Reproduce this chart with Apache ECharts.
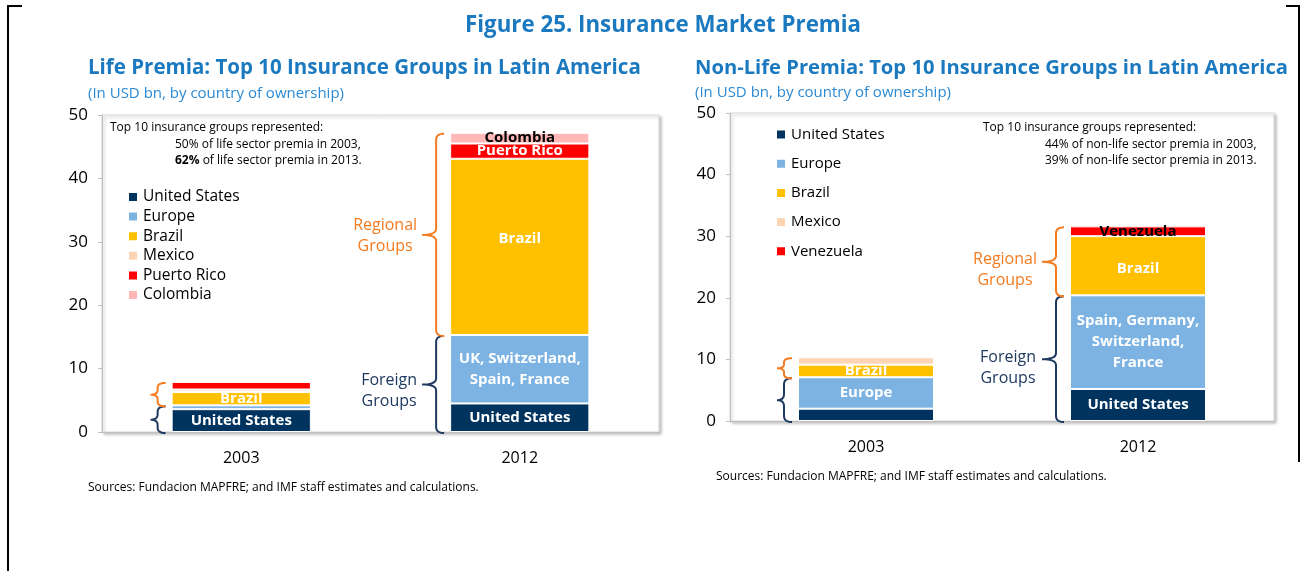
<!DOCTYPE html>
<html>
<head>
<meta charset="utf-8">
<script src="https://cdn.jsdelivr.net/npm/echarts@6/dist/echarts.min.js"></script>
<style>
  html, body { margin: 0; padding: 0; background: #fff; }
  #main { width: 1309px; height: 571px; }
</style>
</head>
<body>
<div id="main"></div>
<script>
var years = ['2003', '2012'];

// Life premia, USD bn
var lifeUS = [3.6, 4.5];
var lifeEurope = [0.6, 10.8];
var lifeBrazil = [2.1, 27.8];
var lifeMexico = [0.4, 0];
var lifePuertoRico = [1.2, 2.4];
var lifeColombia = [0, 1.7];

// Non-life premia, USD bn
var nonLifeUS = [2.0, 5.2];
var nonLifeEurope = [5.1, 15.2];
var nonLifeBrazil = [2.05, 9.6];
var nonLifeMexico = [1.2, 0];
var nonLifeVenezuela = [0, 1.6];

// text shown inside the segments
var lifeLabels = {
    us: ['United States', 'United States'],
    europe: [null, 'UK, Switzerland,\nSpain, France'],
    brazil: ['Brazil', 'Brazil'],
    pr: [null, 'Puerto Rico'],
    col: [null, 'Colombia']
};
var nonLifeLabels = {
    us: [null, 'United States'],
    europe: ['Europe', 'Spain, Germany,\nSwitzerland,\nFrance'],
    brazil: ['Brazil', 'Brazil'],
    ven: [null, 'Venezuela']
};

var COLORS = {
    us: '#00335e',
    europe: '#7db3e3',
    brazil: '#ffc000',
    mexico: '#fcd5b4',
    red: '#ff0000',
    colombia: '#ffb7b7'
};
var FONT = '"Open Sans", "Noto Sans", sans-serif';
var ORANGE = '#f47b20';
var NAVY = '#1f3a60';

function seg(values, labels, textColor, offsets) {
    return values.map(function (v, i) {
        if (!v) return '-';
        var item = { value: v };
        if (labels && labels[i]) {
            item.label = {
                show: true, position: 'inside', formatter: labels[i],
                color: textColor || '#fff', fontWeight: 'bold', fontSize: 15,
                fontFamily: FONT, lineHeight: 21,
                offset: offsets ? offsets[i] : [0, 0]
            };
        }
        return item;
    });
}

function bar(name, idx, values, labels, color, textColor, offsets) {
    return {
        name: name, type: 'bar', stack: 's' + idx,
        xAxisIndex: idx, yAxisIndex: idx, barWidth: '50%',
        itemStyle: { color: color, borderColor: '#fff', borderWidth: 1 },
        label: { show: false },
        data: seg(values, labels, textColor, offsets)
    };
}

function yAxis(idx) {
    return {
        gridIndex: idx, type: 'value', min: 0, max: 50, interval: 10,
        axisLine: { show: true, lineStyle: { color: '#bfbfbf' } },
        axisTick: { show: true, length: 4, lineStyle: { color: '#bfbfbf' } },
        splitLine: { show: false },
        axisLabel: { color: '#000', fontSize: 17, margin: 14, fontFamily: FONT }
    };
}
function xAxis(idx) {
    return {
        gridIndex: idx, type: 'category', data: years,
        axisLine: { lineStyle: { color: '#bfbfbf' } },
        axisTick: { inside: true, length: 5, lineStyle: { color: '#bfbfbf' } },
        axisLabel: { color: '#000', fontSize: 16, margin: 18, fontFamily: FONT }
    };
}
function gridBox(left, top, width, height) {
    return {
        left: left, top: top, width: width, height: height, show: true,
        backgroundColor: '#fff', borderColor: '#d9d9d9', borderWidth: 1,
        shadowColor: 'rgba(0,0,0,0.25)', shadowBlur: 3, shadowOffsetX: 2, shadowOffsetY: 2
    };
}

var chart = echarts.init(document.getElementById('main'));

var option = {
    animation: false,
    textStyle: { fontFamily: FONT },
    title: [
        { text: 'Figure 25. Insurance Market Premia', left: 460, top: 10,
          textStyle: { color: '#1b79c0', fontSize: 22.3, fontWeight: 'bold', fontFamily: FONT } },
        { text: 'Life Premia: Top 10 Insurance Groups in Latin America', left: 88, top: 58,
          subtext: '(In USD bn, by country of ownership)', itemGap: 7, padding: 0,
          textStyle: { color: '#1b79c0', fontSize: 20.5, fontWeight: 'bold', fontFamily: FONT },
          subtextStyle: { color: '#2b8ad3', fontSize: 15, fontFamily: FONT } },
        { text: 'Non-Life Premia: Top 10 Insurance Groups in Latin America', left: 695, top: 58,
          subtext: '(In USD bn, by country of ownership)', itemGap: 7, padding: 0,
          textStyle: { color: '#1b79c0', fontSize: 20.2, fontWeight: 'bold', fontFamily: FONT },
          subtextStyle: { color: '#2b8ad3', fontSize: 15, fontFamily: FONT } }
    ],
    legend: [
        { data: ['United States', 'Europe', 'Brazil', 'Mexico', 'Puerto Rico', 'Colombia'],
          orient: 'vertical', left: 127, top: 189, padding: 0, itemGap: 3.6,
          itemWidth: 10, itemHeight: 10, icon: 'rect', selectedMode: false,
          textStyle: { color: '#000', fontSize: 15.5, fontFamily: FONT } },
        { data: ['United States', 'Europe', 'Brazil', 'Mexico', 'Venezuela'],
          orient: 'vertical', left: 775, top: 127, padding: 0, itemGap: 14.2,
          itemWidth: 10, itemHeight: 10, icon: 'rect', selectedMode: false,
          textStyle: { color: '#000', fontSize: 15, fontFamily: FONT } }
    ],
    grid: [gridBox(102, 115, 557, 317), gridBox(730, 113, 544, 308)],
    xAxis: [xAxis(0), xAxis(1)],
    yAxis: [yAxis(0), yAxis(1)],
    series: [
        bar('United States', 0, lifeUS, lifeLabels.us, COLORS.us),
        bar('Europe', 0, lifeEurope, lifeLabels.europe, COLORS.europe),
        bar('Brazil', 0, lifeBrazil, lifeLabels.brazil, COLORS.brazil, null, [[0, 0], [0, -8]]),
        bar('Mexico', 0, lifeMexico, null, COLORS.mexico),
        bar('Puerto Rico', 0, lifePuertoRico, lifeLabels.pr, COLORS.red),
        bar('Colombia', 0, lifeColombia, lifeLabels.col, COLORS.colombia, '#000'),
        bar('United States', 1, nonLifeUS, nonLifeLabels.us, COLORS.us),
        bar('Europe', 1, nonLifeEurope, nonLifeLabels.europe, COLORS.europe),
        bar('Brazil', 1, nonLifeBrazil, nonLifeLabels.brazil, COLORS.brazil, null, [[0, 0], [0, 3]]),
        bar('Mexico', 1, nonLifeMexico, null, COLORS.mexico),
        bar('Venezuela', 1, nonLifeVenezuela, nonLifeLabels.ven, COLORS.red, '#000')
    ]
};
chart.setOption(option);

// ---- braces, notes, frame ----
function sumAt(arrs, i) {
    var s = 0;
    arrs.forEach(function (a) { s += a[i] || 0; });
    return s;
}
// sample a quadratic curve into points
function quad(p0, p1, p2, out) {
    for (var t = 0; t <= 1.0001; t += 0.125) {
        var a = (1 - t) * (1 - t), b = 2 * (1 - t) * t, c = t * t;
        out.push([a * p0[0] + b * p1[0] + c * p2[0], a * p0[1] + b * p1[1] + c * p2[1]]);
    }
}
function bracePoints(x, y1, y2, w, lead) {
    var m = (y1 + y2) / 2, r = Math.min(6, (y2 - y1) / 5), pts = [];
    quad([x + w, y1], [x, y1], [x, y1 + r], pts);
    quad([x, m - r], [x, m], [x - lead, m], pts);
    quad([x - lead, m], [x, m], [x, m + r], pts);
    quad([x, y2 - r], [x, y2], [x + w, y2], pts);
    return pts;
}
var graphics = [];
function addBrace(idx, cat, lo, hi, color, lead, text, textOffset, dy) {
    var c0 = chart.convertToPixel({ xAxisIndex: idx }, years[0]);
    var c1 = chart.convertToPixel({ xAxisIndex: idx }, years[1]);
    var band = c1 - c0;
    var cx = chart.convertToPixel({ xAxisIndex: idx }, years[cat]);
    var x = cx - band / 4 - 14;
    var y1 = chart.convertToPixel({ yAxisIndex: idx }, hi);
    var y2 = chart.convertToPixel({ yAxisIndex: idx }, lo);
    graphics.push({
        type: 'polyline', silent: true, z: 10,
        shape: { points: bracePoints(x, y1 + 1, y2 + 1, 8, lead) },
        style: { fill: null, stroke: color, lineWidth: 2 }
    });
    if (text) {
        graphics.push({
            type: 'text', silent: true, z: 10, x: x - lead - textOffset, y: (y1 + y2) / 2 + dy,
            style: { text: text, fill: color, fontSize: 16, fontFamily: FONT, lineHeight: 21,
                     align: 'center', verticalAlign: 'middle' }
        });
    }
}
[0, 1].forEach(function (i) {
    var foreignL = sumAt([lifeUS, lifeEurope], i);
    var totalL = sumAt([lifeUS, lifeEurope, lifeBrazil, lifeMexico, lifePuertoRico, lifeColombia], i);
    var foreignN = sumAt([nonLifeUS, nonLifeEurope], i);
    var totalN = sumAt([nonLifeUS, nonLifeEurope, nonLifeBrazil, nonLifeMexico, nonLifeVenezuela], i);
    var lead = i ? 14 : 7;
    addBrace(0, i, 0, foreignL, NAVY, lead, i ? 'Foreign\nGroups' : null, 33, 7);
    addBrace(0, i, foreignL, totalL, ORANGE, lead, i ? 'Regional\nGroups' : null, 37, 2);
    addBrace(1, i, 0, foreignN, NAVY, lead, i ? 'Foreign\nGroups' : null, 34, 10);
    addBrace(1, i, foreignN, totalN, ORANGE, lead, i ? 'Regional\nGroups' : null, 37, 9);
});

function note(x, y, t, opts) {
    graphics.push({
        type: 'text', silent: true, z: 10, x: x, y: y,
        style: Object.assign({ text: t, fill: '#000', fontSize: 12, fontFamily: FONT,
                               verticalAlign: 'middle' }, opts || {})
    });
}
note(110, 128, 'Top 10 insurance groups represented:');
note(175, 145, '50% of life sector premia in 2003,');
note(175, 161, '{b|62%} of life sector premia in 2013.', {
    rich: { b: { fontWeight: 'bold', fontSize: 12, fontFamily: FONT, fill: '#000' } }
});
note(983, 128, 'Top 10 insurance groups represented:');
note(1045, 145, '44% of non-life sector premia in 2003,');
note(1045, 161, '39% of non-life sector premia in 2013.');
note(88, 488, 'Sources: Fundacion MAPFRE; and IMF staff estimates and calculations.', { fontSize: 12 });
note(716, 477, 'Sources: Fundacion MAPFRE; and IMF staff estimates and calculations.', { fontSize: 12 });

// page frame
graphics.push({ type: 'polyline', silent: true, shape: { points: [[22, 6], [8, 6], [8, 571]] },
                style: { stroke: '#000', lineWidth: 2, fill: null } });
graphics.push({ type: 'polyline', silent: true, shape: { points: [[1286, 6], [1299, 6], [1299, 462]] },
                style: { stroke: '#000', lineWidth: 2, fill: null } });

chart.setOption({ graphic: graphics });
window.onresize = function () { chart.resize(); };
</script>
</body>
</html>
